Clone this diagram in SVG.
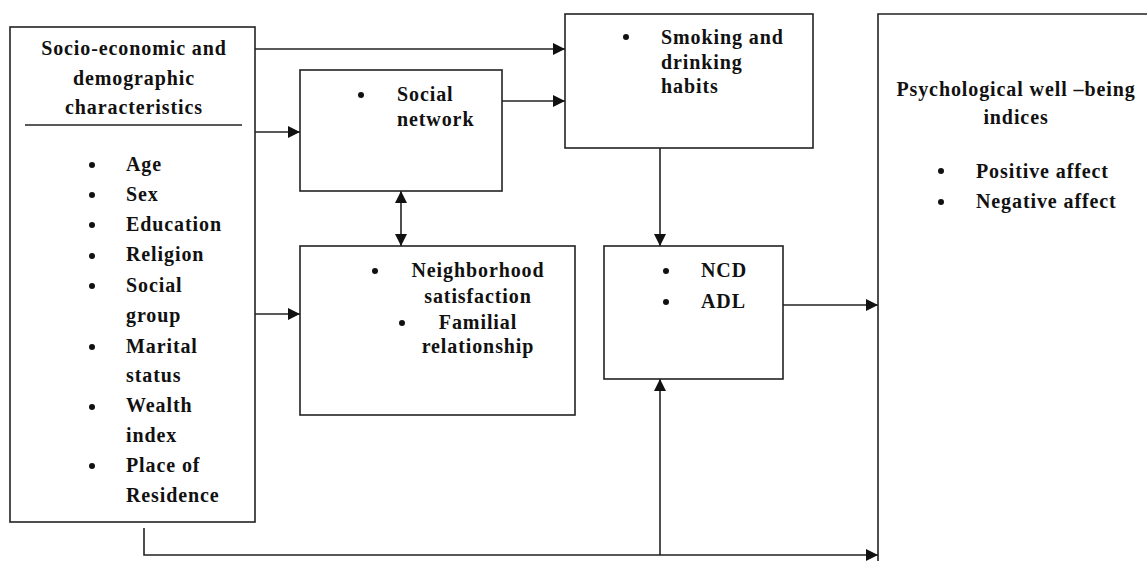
<svg xmlns="http://www.w3.org/2000/svg" width="1147" height="561" viewBox="0 0 1147 561">
<style>
.box{fill:#fff;stroke:#222;stroke-width:1.6}
.ln{fill:none;stroke:#222;stroke-width:1.6}
text{font-family:"Liberation Serif","Times New Roman",serif;font-weight:bold;font-size:20px;letter-spacing:0.9px;fill:#111}
.c{text-anchor:middle}
.b{fill:#111}
</style>
<defs>
<marker id="ah" viewBox="0 0 10 10" refX="10" refY="5" markerWidth="13" markerHeight="12" markerUnits="userSpaceOnUse" orient="auto-start-reverse">
<path d="M0,0 L10,5 L0,10 z" fill="#111"/>
</marker>
</defs>
<rect width="1147" height="561" fill="#fff"/>
<g id="connectors">
<line class="ln" x1="255" y1="49" x2="565" y2="49" marker-end="url(#ah)"/>
<line class="ln" x1="255" y1="132" x2="300" y2="132" marker-end="url(#ah)"/>
<line class="ln" x1="255" y1="314" x2="300" y2="314" marker-end="url(#ah)"/>
<line class="ln" x1="502" y1="101" x2="565" y2="101" marker-end="url(#ah)"/>
<line class="ln" x1="401" y1="191" x2="401" y2="246" marker-start="url(#ah)" marker-end="url(#ah)"/>
<line class="ln" x1="660" y1="148" x2="660" y2="246" marker-end="url(#ah)"/>
<line class="ln" x1="783" y1="305" x2="878" y2="305" marker-end="url(#ah)"/>
<polyline class="ln" points="144,528 144,555 878,555" marker-end="url(#ah)"/>
<line class="ln" x1="660" y1="555" x2="660" y2="379" marker-end="url(#ah)"/>
</g>
<g id="socio">
<rect class="box" x="10" y="27" width="245" height="495"/>
<line class="ln" x1="25" y1="125" x2="242" y2="125"/>
<text class="c" x="134" y="55">Socio-economic and</text>
<text class="c" x="134" y="85">demographic</text>
<text class="c" x="134" y="114">characteristics</text>
<g class="b">
<circle cx="92" cy="165" r="3"/><circle cx="92" cy="195" r="3"/><circle cx="92" cy="225" r="3"/><circle cx="92" cy="256" r="3"/><circle cx="92" cy="286" r="3"/><circle cx="92" cy="347" r="3"/><circle cx="92" cy="407" r="3"/><circle cx="92" cy="466" r="3"/>
</g>
<text x="126" y="171">Age</text>
<text x="126" y="201">Sex</text>
<text x="126" y="231">Education</text>
<text x="126" y="261">Religion</text>
<text x="126" y="292">Social</text>
<text x="126" y="322">group</text>
<text x="126" y="353">Marital</text>
<text x="126" y="382">status</text>
<text x="126" y="412">Wealth</text>
<text x="126" y="442">index</text>
<text x="126" y="472">Place of</text>
<text x="126" y="502">Residence</text>
</g>
<g id="social-network">
<rect class="box" x="300" y="70" width="202" height="121"/>
<circle class="b" cx="361" cy="95" r="3"/>
<text x="397" y="101">Social</text>
<text x="397" y="126">network</text>
</g>
<g id="neighborhood">
<rect class="box" x="300" y="246" width="275" height="169"/>
<circle class="b" cx="375" cy="271" r="3"/>
<circle class="b" cx="402" cy="323" r="3"/>
<text class="c" x="478" y="277">Neighborhood</text>
<text class="c" x="478" y="303">satisfaction</text>
<text class="c" x="478" y="329">Familial</text>
<text class="c" x="478" y="353">relationship</text>
</g>
<g id="smoking">
<rect class="box" x="565" y="14" width="248" height="134"/>
<circle class="b" cx="626" cy="37" r="3"/>
<text x="661" y="44">Smoking and</text>
<text x="661" y="69">drinking</text>
<text x="661" y="93">habits</text>
</g>
<g id="ncd">
<rect class="box" x="604" y="246" width="179" height="133"/>
<circle class="b" cx="666" cy="271" r="3"/>
<circle class="b" cx="666" cy="302" r="3"/>
<text x="701" y="277">NCD</text>
<text x="701" y="308">ADL</text>
</g>
<g id="wellbeing">
<polyline class="ln" points="878,561 878,14 1150,14"/>
<text class="c" x="1016" y="96">Psychological well –being</text>
<text class="c" x="1016" y="124">indices</text>
<circle class="b" cx="941" cy="171" r="3"/>
<circle class="b" cx="941" cy="202" r="3"/>
<text x="976" y="178">Positive affect</text>
<text x="976" y="208">Negative affect</text>
</g>
</svg>
